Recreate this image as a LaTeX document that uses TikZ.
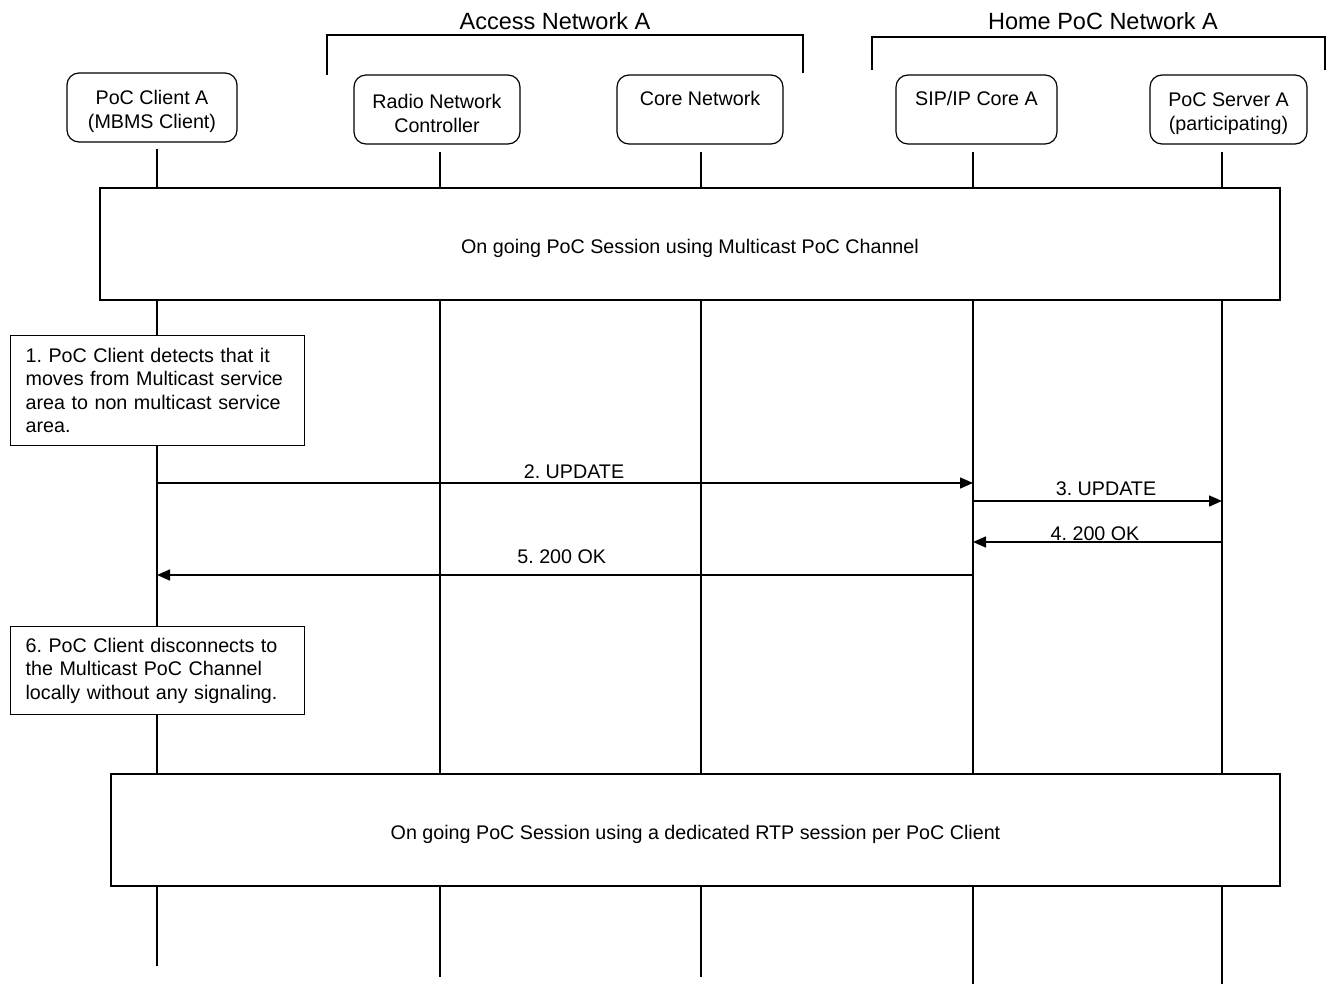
\documentclass[tikz,border=0pt]{standalone}
\usepackage{fontspec}
\setmainfont{Liberation Sans}
\frenchspacing
\usetikzlibrary{arrows.meta,calc}
\begin{document}
\begin{tikzpicture}[x=1pt,y=-1pt,
  every node/.style={font=\fontsize{19.7}{24}\selectfont},
  actor/.style={draw, line width=1.2pt, rounded corners=12pt, inner sep=0pt},
  inlbl/.style={yshift=-4pt, align=center, inner sep=0pt},
  bigbox/.style={draw, line width=1.2pt, fill=white, inner sep=0pt},
  notebox/.style={draw, line width=1.2pt, fill=white, align=left, inner xsep=15pt, inner ysep=0pt, anchor=north west, font=\fontsize{19.7}{23.5}\selectfont},
  life/.style={line width=1.2pt},
  bracket/.style={line width=1.2pt},
  msg/.style={line width=1.5pt, -{Triangle[length=13pt,width=11pt]}},
  lbl/.style={anchor=base, inner sep=0pt},
  title/.style={font=\fontsize{23.5}{28}\selectfont}
]
\useasboundingbox (0,0) rectangle (1332,984);

% actors
\node[actor, minimum width=170, minimum height=69, label={[inlbl]center:PoC Client A\\(MBMS Client)}] (cA) at (152,107.5) {};
\node[actor, minimum width=166, minimum height=69, label={[inlbl]center:Radio Network\\Controller}] (rnc) at (437,109.5) {};
\node[actor, minimum width=166, minimum height=69, label={[inlbl]center:Core Network\\\strut}] (cn) at (700,109.5) {};
\node[actor, minimum width=161, minimum height=69, label={[inlbl]center:SIP/IP Core A\\\strut}] (sip) at (976.5,109.5) {};
\node[actor, minimum width=157, minimum height=69, label={[inlbl]center:PoC Server A\\(participating)}] (ps) at (1228.5,109.5) {};

% group brackets
\node[title] (tAN) at (555,21) {Access Network A};
\node[title] (tHN) at (1103,21) {Home PoC Network A};
\coordinate (anL) at (327,75); \coordinate (anR) at (803,73);
\coordinate (hnL) at (872,70); \coordinate (hnR) at (1325,70);
\draw[bracket] (anL) -- (327,35) -- (803,35) -- (anR);
\draw[bracket] (hnL) -- (872,37) -- (1325,37) -- (hnR);

% lifelines
\coordinate (eA) at (157,966);
\coordinate (eR) at (440,977);
\coordinate (eC) at (701,977);
\coordinate (eS) at (973,984);
\coordinate (eP) at (1222,984);
\draw[life] ($(cA.south)+(5,6)$) -- (eA);
\draw[life] ($(rnc.south)+(3,7)$) -- (eR);
\draw[life] ($(cn.south)+(1,7)$) -- (eC);
\draw[life] ($(sip.south)+(-3.5,7)$) -- (eS);
\draw[life] ($(ps.south)+(-6.5,7)$) -- (eP);

% session boxes
\node[bigbox, minimum width=1180, minimum height=112, label={[inlbl]center:On going PoC Session using Multicast PoC Channel}] (s1) at (690,244) {};
\node[bigbox, minimum width=1169, minimum height=112, label={[inlbl]center:On going PoC Session using a dedicated RTP session per PoC Client}] (s2) at (695.5,830) {};

% notes
\node[notebox, text width=264, minimum height=110] (n1) at (10,335) {1. PoC Client detects that it\\moves from Multicast service\\area to non multicast service\\area.};
\node[notebox, text width=264, minimum height=88] (n6) at (10,626) {6. PoC Client disconnects to\\the Multicast PoC Channel\\locally without any signaling.};

% messages
\coordinate (m2a) at (157,483); \coordinate (m2b) at (973,483);
\coordinate (m3a) at (973,501); \coordinate (m3b) at (1222,501);
\coordinate (m4a) at (1222,542); \coordinate (m4b) at (973,542);
\coordinate (m5a) at (973,575); \coordinate (m5b) at (157,575);
\draw[msg] (m2a) -- node[lbl, pos=0.511, yshift=5pt] {2. UPDATE} (m2b);
\draw[msg] (m3a) -- node[lbl, pos=0.534, yshift=6pt] {3. UPDATE} (m3b);
\draw[msg] (m4a) -- node[lbl, pos=0.51, yshift=1.5pt] {4. 200 OK} (m4b);
\draw[msg] (m5a) -- node[lbl, pos=0.504, yshift=12pt] {5. 200 OK} (m5b);
\end{tikzpicture}
\end{document}
